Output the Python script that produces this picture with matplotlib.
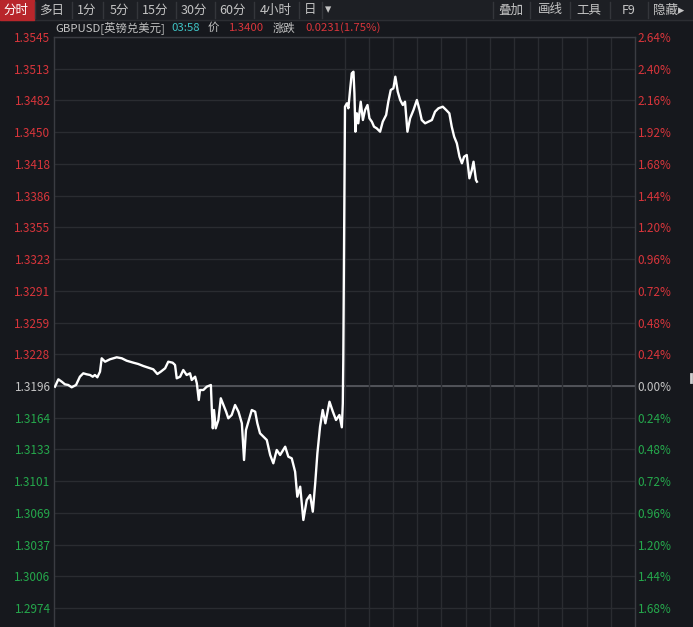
import matplotlib
matplotlib.use("Agg")
import matplotlib.pyplot as plt
from matplotlib.patches import Rectangle

plt.rcParams['font.family'] = ['Noto Sans CJK SC', 'DejaVu Sans']

# ---- data (x = hours from left edge of chart, y = GBPUSD price) ----
hours = [0.04, 0.18, 0.32, 0.45, 0.59, 0.73, 0.91, 1.07, 1.21, 1.35,
         1.49, 1.60, 1.69, 1.79, 1.90, 1.97, 2.11, 2.31, 2.59, 2.80,
         3.00, 3.28, 3.48, 3.69, 3.90, 4.10, 4.27, 4.41, 4.59, 4.72,
         4.90, 5.00, 5.07, 5.21, 5.34, 5.48, 5.62, 5.69, 5.83, 5.90,
         5.98, 6.03, 6.17, 6.31, 6.48, 6.52, 6.56, 6.61, 6.68, 6.79,
         6.89, 7.00, 7.11, 7.20, 7.34, 7.48, 7.62, 7.76, 7.85, 7.93,
         8.03, 8.17, 8.31, 8.40, 8.51, 8.65, 8.79, 8.93, 9.06, 9.20,
         9.34, 9.55, 9.68, 9.82, 9.96, 10.05, 10.17, 10.30, 10.44, 10.58,
         10.69, 10.79, 10.88, 10.99, 11.10, 11.21, 11.38, 11.52, 11.65, 11.79,
         11.89, 11.93, 11.95, 12.00, 12.02, 12.10, 12.16, 12.23, 12.30, 12.37,
         12.41, 12.45, 12.51, 12.57, 12.67, 12.76, 12.85, 12.95, 13.03, 13.13,
         13.22, 13.33, 13.47, 13.58, 13.72, 13.81, 13.91, 14.02, 14.10, 14.20,
         14.30, 14.41, 14.50, 14.60, 14.71, 14.85, 14.99, 15.10, 15.19, 15.33,
         15.47, 15.61, 15.74, 15.88, 16.06, 16.20, 16.33, 16.43, 16.53, 16.64,
         16.75, 16.85, 16.94, 17.05, 17.16, 17.26, 17.33, 17.43, 17.47]
prices = [1.31953, 1.32027, 1.32003, 1.31977, 1.31970, 1.31947, 1.31970, 1.32053, 1.32087, 1.32077,
          1.32070, 1.32053, 1.32070, 1.32047, 1.32103, 1.32237, 1.32203, 1.32227, 1.32247, 1.32237,
          1.32213, 1.32193, 1.32180, 1.32160, 1.32143, 1.32127, 1.32080, 1.32103, 1.32137, 1.32203,
          1.32193, 1.32170, 1.32037, 1.32053, 1.32120, 1.32070, 1.32087, 1.32020, 1.32053, 1.31987,
          1.31820, 1.31920, 1.31920, 1.31953, 1.31970, 1.31720, 1.31537, 1.31720, 1.31537, 1.31620,
          1.31837, 1.31770, 1.31703, 1.31637, 1.31670, 1.31770, 1.31703, 1.31587, 1.31220, 1.31520,
          1.31603, 1.31720, 1.31703, 1.31587, 1.31487, 1.31453, 1.31420, 1.31270, 1.31187, 1.31320,
          1.31270, 1.31353, 1.31253, 1.31237, 1.31103, 1.30853, 1.30953, 1.30620, 1.30820, 1.30870,
          1.30703, 1.30987, 1.31287, 1.31553, 1.31720, 1.31587, 1.31803, 1.31703, 1.31620, 1.31670,
          1.31547, 1.31787, 1.32220, 1.34120, 1.34753, 1.34787, 1.34737, 1.34920, 1.35087, 1.35103,
          1.34887, 1.34503, 1.34687, 1.34587, 1.34803, 1.34620, 1.34720, 1.34770, 1.34637, 1.34603,
          1.34553, 1.34537, 1.34503, 1.34603, 1.34670, 1.34803, 1.34920, 1.34937, 1.35053, 1.34903,
          1.34820, 1.34770, 1.34803, 1.34503, 1.34637, 1.34720, 1.34820, 1.34720, 1.34620, 1.34587,
          1.34603, 1.34620, 1.34703, 1.34737, 1.34753, 1.34720, 1.34687, 1.34553, 1.34453, 1.34387,
          1.34253, 1.34187, 1.34253, 1.34270, 1.34037, 1.34120, 1.34203, 1.34020, 1.34003]

base_price = 1.3196
price_ticks = [1.3545, 1.3513, 1.3482, 1.3450, 1.3418, 1.3386, 1.3355, 1.3323, 1.3291, 1.3259,
               1.3228, 1.3196, 1.3164, 1.3133, 1.3101, 1.3069, 1.3037, 1.3006, 1.2974]
price_labels = ["%.4f" % p for p in price_ticks]
pct_labels = ["2.64%", "2.40%", "2.16%", "1.92%", "1.68%", "1.44%", "1.20%", "0.96%", "0.72%", "0.48%",
              "0.24%", "0.00%", "0.24%", "0.48%", "0.72%", "0.96%", "1.20%", "1.44%", "1.68%"]
grid_hours = [12, 13, 14, 15, 16, 17, 18, 19, 20, 21, 22, 23]

tab_labels = ["分时", "多日", "1分", "5分", "15分", "30分", "60分", "4小时", "日", "▾"]
tab_centers = [16, 52, 87, 119, 155, 194, 233, 276, 310, 328]
tab_seps = [35, 72, 103, 137, 176, 215, 254, 299, 322]
tool_labels = ["叠加", "画线", "工具", "F9", "隐藏▸"]
tool_centers = [511, 550, 589, 629, 669]
tool_seps = [493, 530, 570, 610, 648]

BG = "#16181d"
BAR = "#1d1f24"
GRID = "#2a2c31"
BORDER = "#3a3c42"
RED = "#d8353b"
GREEN = "#25a84c"
GRAY = "#c4c4c4"
CYAN = "#3fc3c5"

W, H = 693, 627
fig = plt.figure(figsize=(W / 100, H / 100), dpi=100, facecolor=BG)

# ---- price chart ----
ax = fig.add_axes([54 / W, 0, 581 / W, 590 / H])
ax.set_facecolor(BG)
ax.set_xlim(0, 24)
ax.set_ylim(1.2955, 1.3545)

for p in price_ticks:
    ax.axhline(p, color=GRID, lw=1, zorder=1)
ax.axhline(base_price, color="#55575d", lw=1.3, zorder=1)
for h in grid_hours:
    ax.axvline(h, color=GRID, lw=1, zorder=1)

ax.plot(hours, prices, color="white", lw=1.7, zorder=3)

for side in ["left", "top", "right"]:
    ax.spines[side].set_color(BORDER)
    ax.spines[side].set_linewidth(1)
ax.spines["bottom"].set_visible(False)
ax.set_xticks([])


def label_color(p):
    if abs(p - base_price) < 1e-6:
        return GRAY
    return RED if p > base_price else GREEN


ax.set_yticks(price_ticks)
ax.set_yticklabels(price_labels, fontsize=8.5)
ax.tick_params(axis="y", length=0, pad=2.5)
for lab, p in zip(ax.get_yticklabels(), price_ticks):
    lab.set_color(label_color(p))

ax2 = ax.twinx()
ax2.set_ylim(ax.get_ylim())
ax2.set_yticks(price_ticks)
ax2.set_yticklabels(pct_labels, fontsize=8.5)
ax2.tick_params(axis="y", length=0, pad=2)
for lab, p in zip(ax2.get_yticklabels(), price_ticks):
    lab.set_color(label_color(p))
for side in ax2.spines:
    ax2.spines[side].set_visible(False)

# ---- toolbar & header (pixel coordinates) ----
ov = fig.add_axes([0, 0, 1, 1], facecolor="none")
ov.set_xlim(0, W)
ov.set_ylim(H, 0)
ov.axis("off")

ov.add_patch(Rectangle((0, 0), W, 20, color=BAR, zorder=1))
ov.plot([0, W], [20, 20], color="#2c2e33", lw=1)
ov.add_patch(Rectangle((0, 0), 34, 20, color="#b8262b", zorder=2))
for lab, cx in zip(tab_labels, tab_centers):
    ov.text(cx, 10, lab, color="white" if lab == "分时" else GRAY, fontsize=9,
            ha="center", va="center", zorder=3)
for sx in tab_seps + tool_seps:
    ov.plot([sx, sx], [2, 18], color="#34363b", lw=1)
for lab, cx in zip(tool_labels, tool_centers):
    ov.text(cx, 10, lab, color=GRAY, fontsize=9, ha="center", va="center")

header = [("GBPUSD[英镑兑美元]", GRAY, 55), ("03:58", CYAN, 171), ("价", GRAY, 208),
          ("1.3400", RED, 229), ("涨跌", GRAY, 273), ("0.0231(1.75%)", RED, 305)]
for txt, col, x0 in header:
    ov.text(x0, 28, txt, color=col, fontsize=8.2, ha="left", va="center")

ov.plot([691, 691], [374, 382], color="#d0d0d0", lw=2)

fig.savefig("out.png", dpi=100, facecolor=BG)
